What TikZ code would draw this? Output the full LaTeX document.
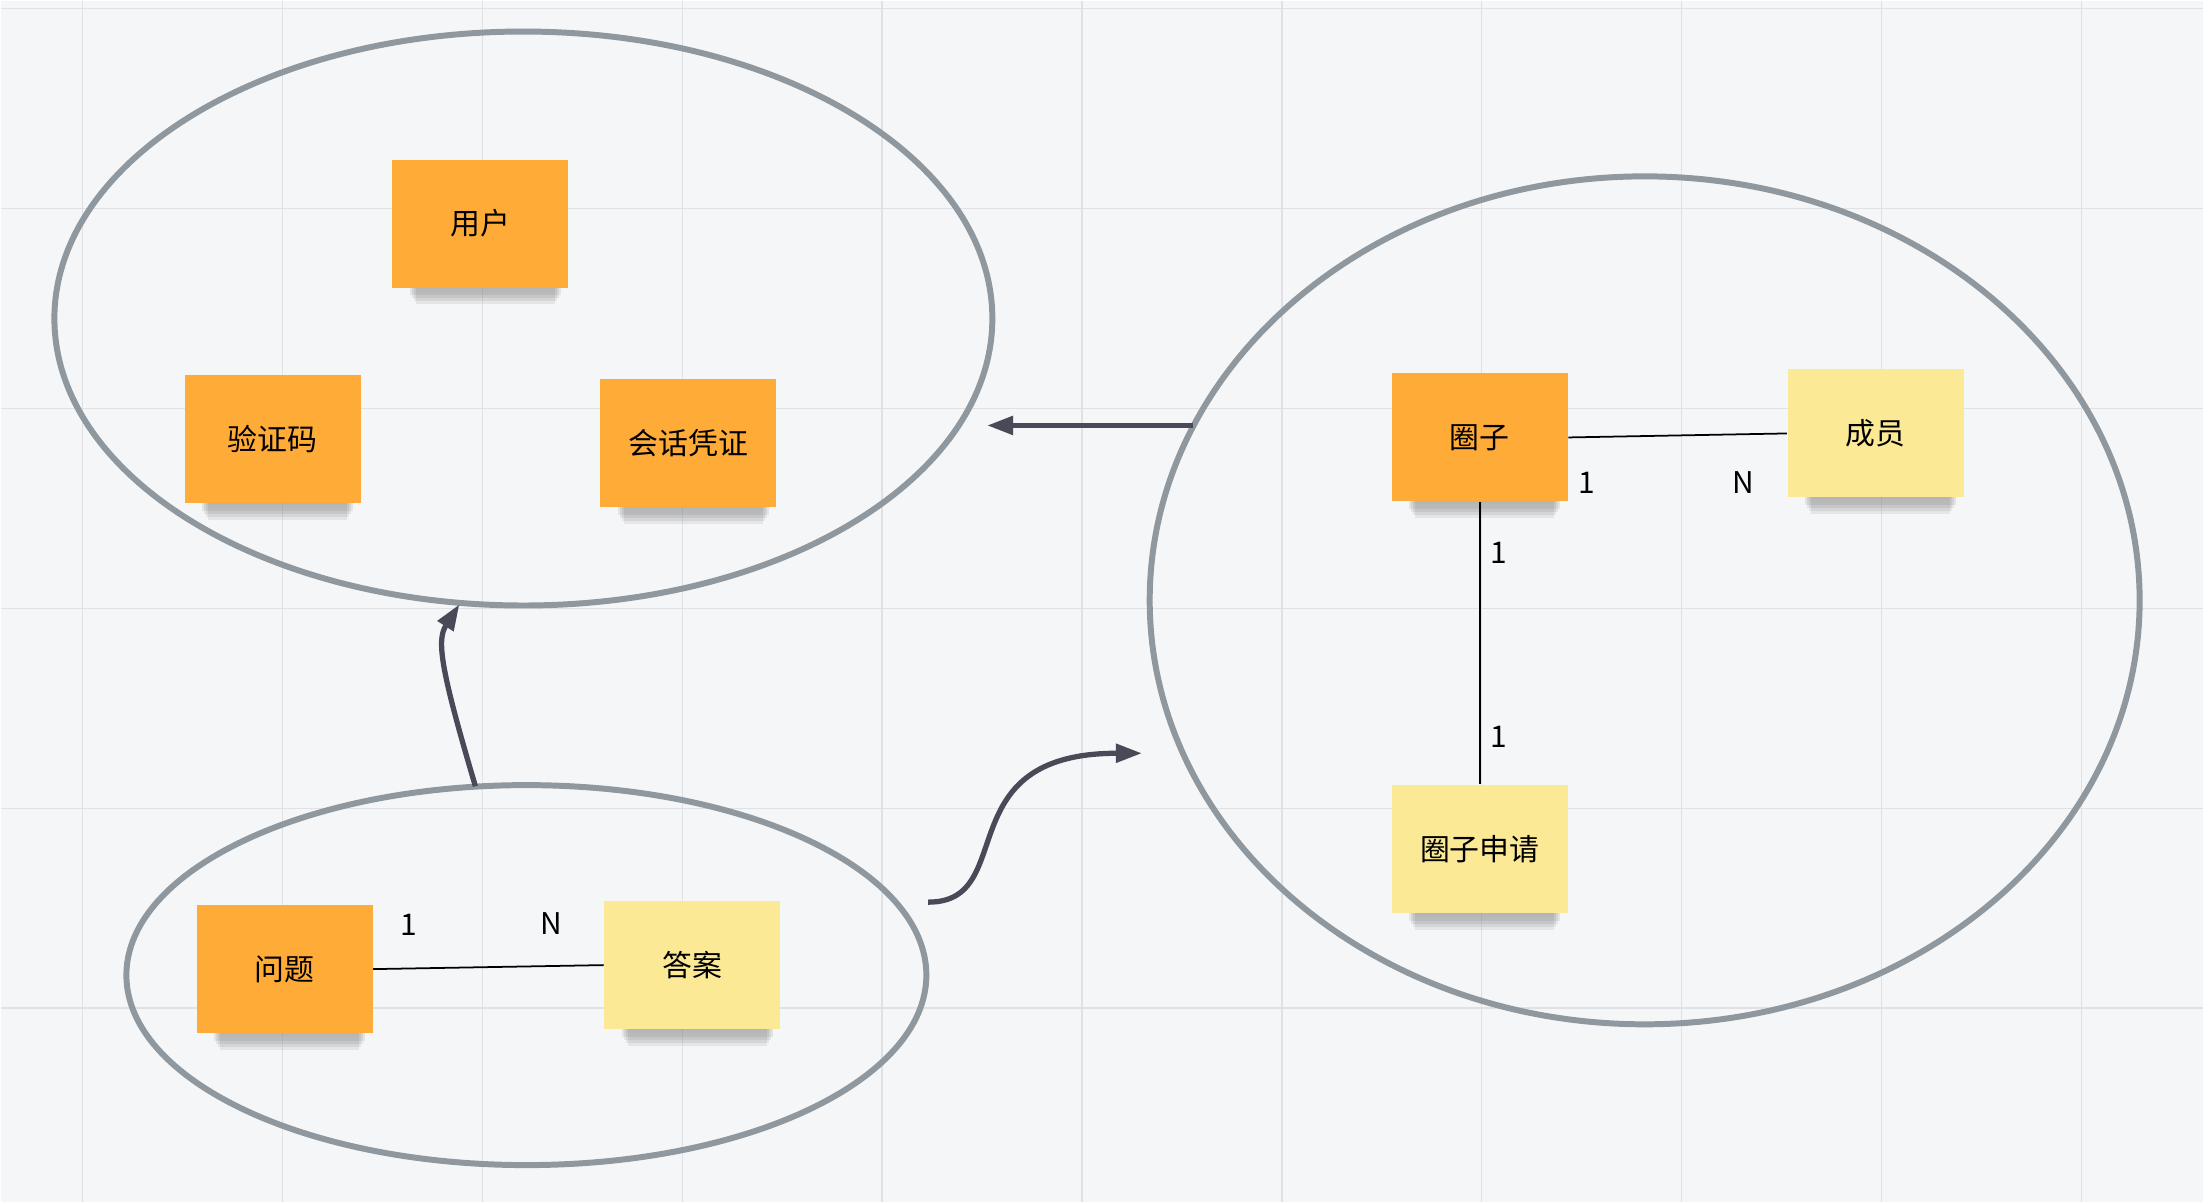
\documentclass[tikz,border=0pt]{standalone}
\usepackage{fontspec}
\setmainfont{Noto Sans CJK SC}
\usepackage{xcolor}
\usetikzlibrary{positioning, shapes.geometric, arrows.meta}

\definecolor{boardbg}{HTML}{F5F6F8}
\definecolor{gridline}{HTML}{DFE1E5}
\definecolor{groupline}{HTML}{8E989E}
\definecolor{flowline}{HTML}{4A4957}
\definecolor{noteorange}{HTML}{FFAB38}
\definecolor{noteyellow}{HTML}{FBE996}
\definecolor{shade}{HTML}{5A6270}

\pgfdeclarelayer{board}
\pgfdeclarelayer{shades}
\pgfsetlayers{board,shades,main}

\tikzset{
  group/.style={ellipse, draw=groupline, line width=1.7pt, inner sep=0pt},
  note/.style={rectangle, inner sep=0pt, minimum width=1.76cm, minimum height=1.28cm,
    font=\fontsize{8.5pt}{10pt}\selectfont},
  entity/.style={note, fill=noteorange},
  member/.style={note, fill=noteyellow},
  rel/.style={draw=black, line width=0.5pt},
  card/.style={font=\fontsize{8.5pt}{10pt}\selectfont, inner sep=1pt},
  flow/.style={draw=flowline, line width=1.5pt, -{Triangle[length=0.26cm, width=0.18cm]}}
}

\begin{document}
\begin{tikzpicture}[x=0.01cm, y=-0.01cm]
  % Board and grid
  \begin{pgfonlayer}{board}
    \fill[boardbg] (0,0) rectangle (2204,1202);
    \foreach \x in {82,282,...,2082} {
      \draw[gridline, line width=0.4pt] (\x,0) -- (\x,1202);
    }
    \foreach \y in {8,208,...,1008} {
      \draw[gridline, line width=0.4pt] (0,\y) -- (2204,\y);
    }
  \end{pgfonlayer}
  \useasboundingbox (0,0) rectangle (2204,1202);

  % Groups
  \node[group, minimum width=9.38cm, minimum height=5.74cm] (account) at (523,318) {};
  \node[group, minimum width=9.90cm, minimum height=8.48cm] (circlegrp) at (1645,600) {};
  \node[group, minimum width=8.00cm, minimum height=3.80cm] (qagrp) at (526,975) {};

  % Notes
  \node[entity] (user) at (480,223) {用户};
  \node[entity] (code) at (272,439) {验证码};
  \node[entity] (session) at (688,443) {会话凭证};
  \node[entity] (question) at (284,969) {问题};
  \node[member] (answer) at (692,965) {答案};
  \node[entity] (circle) at (1480,437) {圈子};
  \node[member] (member) at (1876,433) {成员};
  \node[member] (apply) at (1480,849) {圈子申请};

  % Soft shadows under the notes
  \begin{pgfonlayer}{shades}
    \foreach \n in {user, code, session, question, answer, circle, member, apply} {
      \foreach \k in {1,...,4} {
        \fill[shade, opacity=0.07]
          ([shift={(16+2*\k,-20)}]\n.south west) rectangle ([shift={(-6-2*\k,4+3*\k)}]\n.south east);
      }
    }
  \end{pgfonlayer}

  % Relations with cardinalities
  \draw[rel] (circle.east) -- (member.west);
  \node[card] at (1587,482) {1};
  \node[card] at (1744,482) {N};
  \draw[rel] (circle.south) -- (apply.north);
  \node[card] at (1499,552) {1};
  \node[card] at (1499,737) {1};
  \draw[rel] (question.east) -- (answer.west);
  \node[card] at (408,925) {1};
  \node[card] at (551,923) {N};

  % Dependencies between groups
  \coordinate (circleout) at (1193,425);
  \coordinate (accountin) at (987,425);
  \coordinate (qaout) at (475,786);
  \coordinate (accountbot) at (459,604);
  \coordinate (qaright) at (928,902);
  \coordinate (circlein) at (1142,753);
  \draw[flow] (circleout) -- (accountin);
  \draw[flow] (qaout) .. controls (440,668) and (436,640) .. (accountbot);
  \draw[flow] (qaright) .. controls (1020,902) and (945,753) .. (circlein);
\end{tikzpicture}
\end{document}
